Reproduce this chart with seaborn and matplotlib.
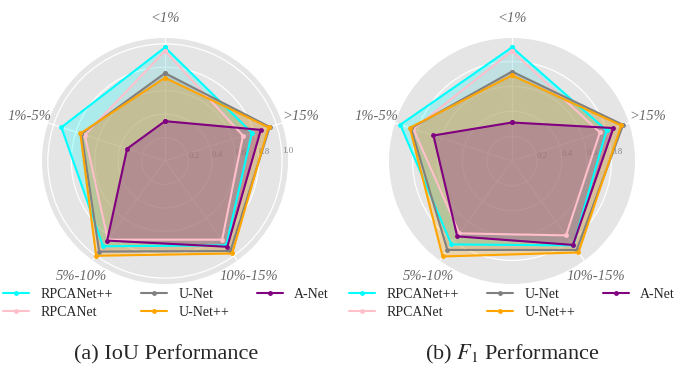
import numpy as np
import pandas as pd
import matplotlib
matplotlib.use("Agg")
import matplotlib.pyplot as plt
import seaborn as sns

categories = ["<1%", ">15%", "10%-15%", "5%-10%", "1%-5%"]
models = ["RPCANet++", "RPCANet", "U-Net", "U-Net++", "A-Net"]
colors = ["cyan", "pink", "gray", "orange", "purple"]

iou_rpcanetpp = [0.97, 0.78, 0.89, 0.90, 0.93]
iou_rpcanet = [0.94, 0.70, 0.83, 0.83, 0.72]
iou_unet = [0.75, 0.94, 0.95, 0.956, 0.75]
iou_unetpp = [0.71, 0.93, 0.976, 1.0, 0.76]
iou_anet = [0.34, 0.86, 0.905, 0.84, 0.34]

f1_rpcanetpp = [0.915, 0.80, 0.84, 0.83, 0.945]
f1_rpcanet = [0.885, 0.744, 0.74, 0.72, 0.835]
f1_unet = [0.72, 0.94, 0.885, 0.885, 0.855]
f1_unetpp = [0.69, 0.925, 0.91, 0.95, 0.865]
f1_anet = [0.31, 0.858, 0.835, 0.75, 0.665]

iou = [iou_rpcanetpp, iou_rpcanet, iou_unet, iou_unetpp, iou_anet]
f1 = [f1_rpcanetpp, f1_rpcanet, f1_unet, f1_unetpp, f1_anet]

sns.set_theme(style="darkgrid", rc={"axes.facecolor": "#e5e5e5",
                                     "grid.color": "white",
                                     "grid.linewidth": 0.9})
plt.rcParams["font.family"] = ["Liberation Serif", "DejaVu Serif"]
plt.rcParams["mathtext.fontset"] = "stix"

fig = plt.figure(figsize=(6.74, 3.71), dpi=100)

angles = np.linspace(0, 2 * np.pi, len(categories), endpoint=False)
closed = np.concatenate([angles, angles[:1]])


def radar(rect, data, rmax, rticks, caption, legend_x):
    ax = fig.add_axes(rect, projection="polar")
    ax.set_theta_offset(np.pi / 2)
    ax.set_theta_direction(-1)
    for name, col, vals in zip(models, colors, data):
        v = np.concatenate([vals, vals[:1]])
        df = pd.DataFrame({"theta": closed, "r": v})
        sns.lineplot(data=df, x="theta", y="r", ax=ax, sort=False,
                     estimator=None, color=col, linewidth=1.5,
                     marker="o", markersize=3.5, markeredgewidth=0,
                     label=name)
        ax.fill(closed, v, color=col, alpha=0.25)
    ax.set_xlabel("")
    ax.set_ylabel("")
    ax.set_xticks(angles)
    ax.set_xticklabels(categories, fontsize=10.5, style="italic",
                       color="#666666")
    ax.tick_params(axis="x", pad=1)
    ax.set_ylim(0, rmax)
    ax.set_yticks(rticks)
    ax.set_yticklabels([f"{t:.1f}" for t in rticks], fontsize=6.5,
                       color="#888888")
    ax.set_rlabel_position(87)
    ax.spines["polar"].set_visible(False)
    ax.get_legend().remove()
    h, l = ax.get_legend_handles_labels()
    fig.legend(h, l, loc="center", bbox_to_anchor=(legend_x, 0.182),
               ncol=3, frameon=False, fontsize=10, handlelength=1.9,
               handletextpad=0.8, columnspacing=2.0, labelspacing=0.4)
    fig.text(legend_x, 0.045, caption, ha="center", va="center",
             fontsize=16)
    return ax


radar([42 / 674, 1 - 284 / 371, 246 / 674, 246 / 371], iou, 1.05,
      [0.2, 0.4, 0.6, 0.8, 1.0], "(a) IoU Performance", 166 / 674)
radar([389 / 674, 1 - 284 / 371, 246 / 674, 246 / 371], f1, 0.99,
      [0.2, 0.4, 0.6, 0.8], "(b) $F_1$ Performance", 512 / 674)

fig.savefig("out.png", dpi=100)
